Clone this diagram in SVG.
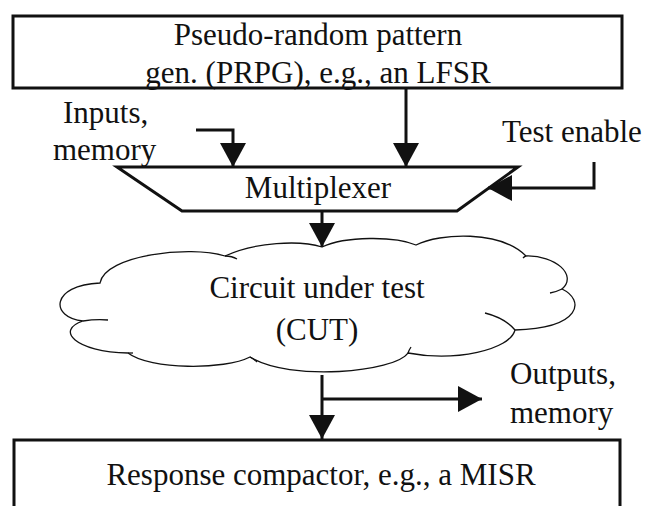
<svg xmlns="http://www.w3.org/2000/svg" width="648" height="506" viewBox="0 0 648 506">
<defs>
<style>
text{font-family:"Liberation Serif","Times New Roman",serif;font-size:31px;fill:#111;}
.c{text-anchor:middle;}
.box{fill:#fff;stroke:#111;stroke-width:3;}
.wire{fill:none;stroke:#111;stroke-width:3;}
.cloud{fill:#fff;stroke:#111;stroke-width:1.3;}
.tail{fill:none;stroke:#111;stroke-width:1.3;}
</style>
<marker id="ah" markerUnits="userSpaceOnUse" viewBox="0 0 24 26" refX="24" refY="13" markerWidth="24" markerHeight="26" orient="auto">
<path d="M0,0 L24,13 L0,26 Z" fill="#111"/>
</marker>
</defs>
<rect width="648" height="506" fill="#fff"/>
<g id="prpg">
<rect class="box" x="13" y="16" width="609" height="72"/>
<text class="c" x="318" y="45">Pseudo-random pattern</text>
<text class="c" x="318" y="83">gen. (PRPG), e.g., an LFSR</text>
</g>
<g id="inputs-label">
<text x="63" y="123">Inputs,</text>
<text x="53" y="160">memory</text>
</g>
<g id="test-enable-label">
<text x="502" y="142">Test enable</text>
</g>
<g id="mux">
<path class="box" d="M117,167 L518,167 L457,211 L182,211 Z"/>
<text class="c" x="318" y="198">Multiplexer</text>
</g>
<g id="cut">
<path class="cloud" d="M322,247 C345,236 395,236 416,245 C440,233 500,230 526,256 C555,255 578,275 562,289 C585,300 582,328 515,330 C510,350 455,362 408,353 C395,372 290,382 250,357 C225,370 150,370 128,353 C75,352 55,330 83,321 C50,318 50,285 100,283 C105,255 190,245 225,256 C255,242 300,240 322,247 Z"/>
<path class="tail" d="M225,256 Q232,256 237,259"/>
<path class="tail" d="M83,321 Q96,319 108,320"/>
<path class="tail" d="M526,256 Q525,256 523,258"/>
<path class="tail" d="M562,289 Q556,292 550,293"/>
<path class="tail" d="M515,330 Q505,318 485,313"/>
<path class="tail" d="M408,353 Q409,350 411,347"/>
<path class="tail" d="M250,357 Q254,359 257,362"/>
<path class="tail" d="M128,353 Q130,353 133,353"/>
<text class="c" x="317" y="298">Circuit under test</text>
<text class="c" x="317" y="340">(CUT)</text>
</g>
<g id="outputs-label">
<text x="510" y="384">Outputs,</text>
<text x="510" y="423">memory</text>
</g>
<g id="misr">
<rect class="box" x="14" y="440" width="606" height="80"/>
<text class="c" x="321" y="485">Response compactor, e.g., a MISR</text>
</g>
<g id="connectors">
<path class="wire" d="M406,88 L406,167" marker-end="url(#ah)"/>
<path class="wire" d="M196,130 L233,130 L233,167" marker-end="url(#ah)"/>
<path class="wire" d="M594,162 L594,188 L488,188" marker-end="url(#ah)"/>
<path class="wire" d="M322,211 L322,247" marker-end="url(#ah)"/>
<path class="wire" d="M322,375 L322,439" marker-end="url(#ah)"/>
<path class="wire" d="M322,399 L482,399" marker-end="url(#ah)"/>
</g>
</svg>
